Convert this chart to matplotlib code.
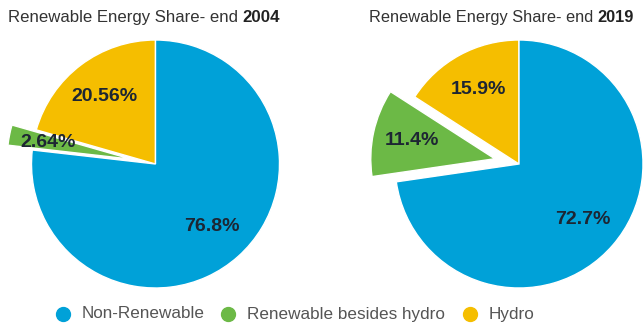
import matplotlib.pyplot as plt
from matplotlib.lines import Line2D

plt.rcParams["font.family"] = ["Liberation Sans", "DejaVu Sans"]

# Anteile in Prozent, Reihenfolge wie in der Legende
categories = ["Non-Renewable", "Renewable besides hydro", "Hydro"]
share_2004 = [76.8, 2.64, 20.56]
share_2019 = [72.7, 11.4, 15.9]
colors = ["#00A1D8", "#6CB946", "#F5BE00"]

W, H = 643, 326
R = 124  # Kreisradius in Pixel

fig = plt.figure(figsize=(W / 100, H / 100), dpi=100)


def draw_pie(cx, cy, values, year, title_x, title_size):
    half = 160
    ax = fig.add_axes([(cx - half) / W, (H - cy - half) / H, 2 * half / W, 2 * half / H])
    # gegen den Uhrzeigersinn ab 12 Uhr: Hydro, Rest-Erneuerbare, Nicht-Erneuerbar
    order = [2, 1, 0]
    vals = [values[i] for i in order]
    cols = [colors[i] for i in order]
    wedges, _, autotexts = ax.pie(vals, colors=cols, startangle=90, counterclock=True,
                                  explode=[0, 0.2, 0], autopct=lambda p: "", pctdistance=0.68,
                                  wedgeprops=dict(edgecolor="white", linewidth=1))
    for t, v in zip(autotexts, vals):
        t.set_text(f"{v}%")
        t.set_fontsize(14)
        t.set_fontweight("bold")
        t.set_color("#1d2633")
    lim = half / R
    ax.set_xlim(-lim, lim)
    ax.set_ylim(-lim, lim)
    for w in wedges:
        w.set_clip_on(False)

    # Titel: normaler Text + fettes Jahr
    t = fig.text(title_x / W, 1 - 25 / H, "Renewable Energy Share- end ",
                 fontsize=title_size, color="#333333", va="bottom", ha="left")
    ax.annotate(year, xy=(1, 0), xycoords=t, va="bottom", ha="left",
                fontsize=title_size, fontweight="bold", color="#222222", annotation_clip=False)


draw_pie(155.5, 164, share_2004, "2004", 8, 12.1)
draw_pie(519, 164, share_2019, "2019", 369, 11.8)

# Legende unten
legend_x = [63, 228, 470]
for x, label, c in zip(legend_x, categories, colors):
    fig.add_artist(Line2D([x / W], [1 - 314 / H], marker="o", markersize=10, color=c,
                          linestyle="none", transform=fig.transFigure))
    fig.text((x + 19) / W, 1 - 314 / H, label, fontsize=12.3, color="#555555",
             va="center", ha="left")

fig.savefig("out.png", dpi=100)
